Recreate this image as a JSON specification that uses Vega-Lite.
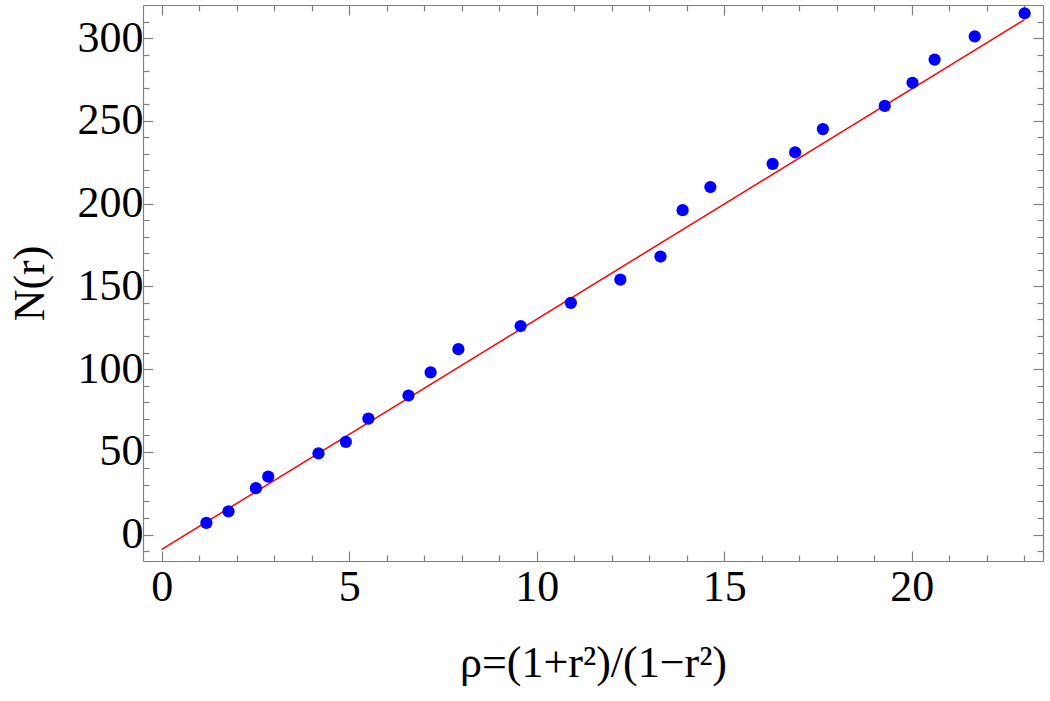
{
  "$schema": "https://vega.github.io/schema/vega-lite/v6.json",
  "autosize": "none",
  "width": 900,
  "height": 556,
  "padding": {"left": 143, "top": 5, "right": 7, "bottom": 140},
  "background": "white",
  "config": {
    "view": {"stroke": null},
    "axis": {
      "grid": false,
      "domainColor": "#808080",
      "domainWidth": 1.2,
      "tickColor": "#808080",
      "tickWidth": 1.2,
      "labelFont": "Liberation Serif",
      "labelFontSize": 44,
      "labelColor": "#000000",
      "labelOverlap": false,
      "labelFlush": false,
      "labelBound": false,
      "titleFont": "Liberation Serif",
      "titleFontSize": 44,
      "titleFontWeight": "normal",
      "titleColor": "#000000"
    }
  },
  "datasets": {
    "points": [
      {"rho": 1.19, "N": 7},
      {"rho": 1.78, "N": 14},
      {"rho": 2.51, "N": 28},
      {"rho": 2.84, "N": 35},
      {"rho": 4.18, "N": 49},
      {"rho": 4.91, "N": 56},
      {"rho": 5.51, "N": 70},
      {"rho": 6.58, "N": 84},
      {"rho": 7.17, "N": 98},
      {"rho": 7.91, "N": 112},
      {"rho": 9.57, "N": 126},
      {"rho": 10.91, "N": 140},
      {"rho": 12.23, "N": 154},
      {"rho": 13.3, "N": 168},
      {"rho": 13.89, "N": 196},
      {"rho": 14.63, "N": 210},
      {"rho": 16.29, "N": 224},
      {"rho": 16.89, "N": 231},
      {"rho": 17.63, "N": 245},
      {"rho": 19.28, "N": 259},
      {"rho": 20.02, "N": 273},
      {"rho": 20.61, "N": 287},
      {"rho": 21.68, "N": 301},
      {"rho": 23.01, "N": 315}
    ],
    "fit": [
      {"rho": 0, "N": -9},
      {"rho": 23.0, "N": 311}
    ]
  },
  "layer": [
    {
      "data": {"name": "fit"},
      "mark": {"type": "line", "color": "#ff0000", "strokeWidth": 1.5},
      "encoding": {
        "x": {
          "field": "rho", "type": "quantitative",
          "scale": {"domain": [-0.5, 23.5], "nice": false, "zero": false},
          "axis": {
            "orient": "bottom",
            "values": [0,1,2,3,4,5,6,7,8,9,10,11,12,13,14,15,16,17,18,19,20,21,22,23],
            "tickSize": {"condition": {"test": "datum.value % 5 === 0", "value": -10}, "value": -6},
            "labelExpr": "datum.value % 5 === 0 ? datum.label : ''",
            "labelPadding": 14,
            "title": "ρ=(1+r²)/(1−r²)",
            "titlePadding": 28
          }
        },
        "y": {
          "field": "N", "type": "quantitative",
          "scale": {"domain": [-16, 320], "nice": false, "zero": false},
          "axis": {
            "orient": "left",
            "values": [-10,0,10,20,30,40,50,60,70,80,90,100,110,120,130,140,150,160,170,180,190,200,210,220,230,240,250,260,270,280,290,300,310],
            "tickSize": {"condition": {"test": "datum.value % 50 === 0", "value": -10}, "value": -6},
            "labelExpr": "datum.value % 50 === 0 ? datum.label : ''",
            "labelPadding": 10,
            "title": "N(r)",
            "titlePadding": 25
          }
        }
      }
    },
    {
      "data": {"name": "points"},
      "mark": {"type": "point", "shape": "circle", "filled": true, "size": 150, "color": "#0000ff", "opacity": 1},
      "encoding": {
        "x": {
          "field": "rho", "type": "quantitative",
          "axis": {
            "orient": "top",
            "values": [0,1,2,3,4,5,6,7,8,9,10,11,12,13,14,15,16,17,18,19,20,21,22,23],
            "tickSize": {"condition": {"test": "datum.value % 5 === 0", "value": -10}, "value": -6},
            "labels": false,
            "title": null
          }
        },
        "y": {
          "field": "N", "type": "quantitative",
          "axis": {
            "orient": "right",
            "values": [-10,0,10,20,30,40,50,60,70,80,90,100,110,120,130,140,150,160,170,180,190,200,210,220,230,240,250,260,270,280,290,300,310],
            "tickSize": {"condition": {"test": "datum.value % 50 === 0", "value": -10}, "value": -6},
            "labels": false,
            "title": null
          }
        }
      }
    }
  ],
  "resolve": {"axis": {"x": "independent", "y": "independent"}}
}
